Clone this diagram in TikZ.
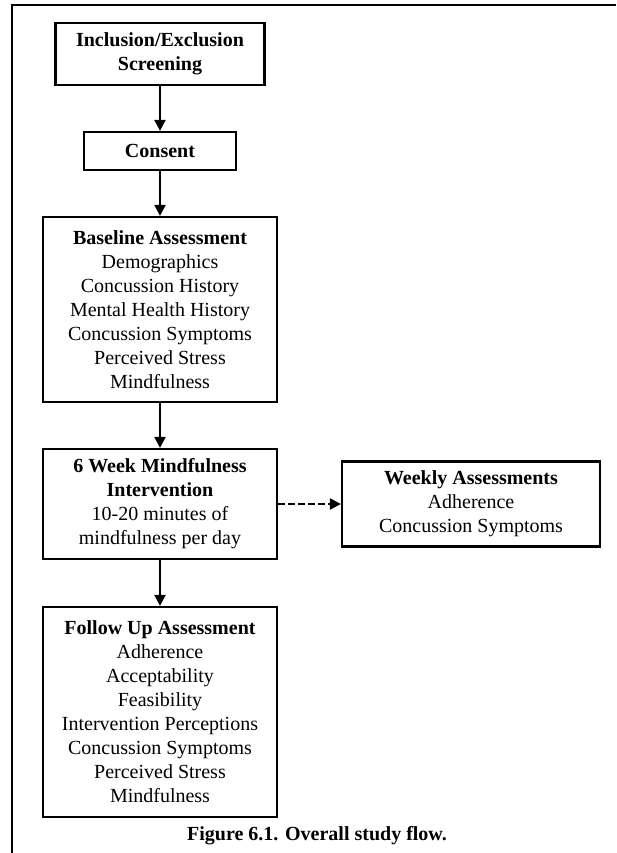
\documentclass[tikz,border=0pt]{standalone}
\usepackage{fontspec}
\setmainfont{Liberation Serif}
\usetikzlibrary{arrows.meta}
\begin{document}
\begin{tikzpicture}[x=1pt,y=-1pt,
  box/.style={draw, line width=2.2pt, align=center, inner sep=0pt,
    font=\fontsize{20}{24}\selectfont},
  arr/.style={line width=2.2pt, -{Triangle[length=11pt,width=11pt]}},
  darr/.style={arr, dash pattern=on 7pt off 3pt}]
\useasboundingbox (0,0) rectangle (616,853);
\draw[line width=2.5pt] (12,853) -- (12,5) -- (616,5);
\node[box, minimum width=209pt, minimum height=62pt] (incl) at (160,54)
  {\textbf{Inclusion/Exclusion}\\\textbf{Screening}};
\node[box, minimum width=152pt, minimum height=38pt] (cons) at (160,151)
  {\textbf{Consent}};
\node[box, minimum width=234pt, minimum height=185pt] (base) at (160,309.5)
  {\textbf{Baseline Assessment}\\Demographics\\Concussion History\\Mental Health History\\Concussion Symptoms\\Perceived Stress\\Mindfulness};
\node[box, minimum width=234pt, minimum height=110pt] (week) at (160,504)
  {\textbf{6 Week Mindfulness}\\\textbf{Intervention}\\10-20 minutes of\\mindfulness per day};
\node[box, minimum width=258pt, minimum height=85pt] (weekly) at (471,504)
  {\textbf{Weekly Assessments}\\Adherence\\Concussion Symptoms};
\node[box, minimum width=234pt, minimum height=210pt] (follow) at (160,712)
  {\textbf{Follow Up Assessment}\\Adherence\\Acceptability\\Feasibility\\Intervention Perceptions\\Concussion Symptoms\\Perceived Stress\\Mindfulness};
\node[font=\fontsize{20}{24}\selectfont\bfseries, inner sep=0pt] (cap) at (317,836)
  {Figure 6.1. Overall study flow.};
\draw[arr] (incl) -- (cons);
\draw[arr] (cons) -- (base);
\draw[arr] (base) -- (week);
\draw[arr] (week) -- (follow);
\draw[darr] (week.east) -- (weekly.west);
\end{tikzpicture}
\end{document}
